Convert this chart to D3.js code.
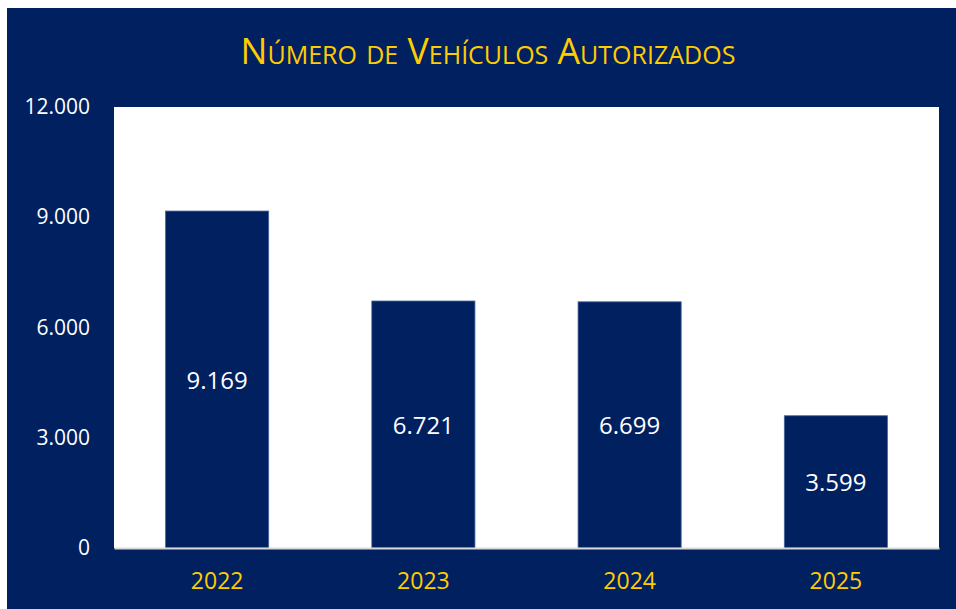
<!DOCTYPE html>
<html>
<head>
<meta charset="utf-8">
<script src="https://cdn.jsdelivr.net/npm/d3@7"></script>
<style>
  body { margin: 0; background: #fff; }
  text { font-family: "Open Sans", "Noto Sans", sans-serif; }
</style>
</head>
<body>
<svg width="956" height="609"></svg>
<script>
var years = ["2022", "2023", "2024", "2025"];
var vehicles = [9169, 6721, 6699, 3599];
var yTicks = [0, 3000, 6000, 9000, 12000];

var navy = "#002060";
var gold = "#ffcc00";

var svg = d3.select("svg");

// dark background panel
svg.append("rect")
  .attr("x", 7).attr("y", 8)
  .attr("width", 949).attr("height", 601)
  .attr("fill", navy);

svg.append("text")
  .attr("x", 488)
  .attr("y", 64)
  .attr("text-anchor", "middle")
  .attr("fill", gold)
  .style("font-size", "35.7px")
  .style("font-variant", "small-caps")
  .text("Número de Vehículos Autorizados");

var plotLeft = 114, plotRight = 939, plotTop = 107, plotBottom = 548;

// white plot area
svg.append("rect")
  .attr("x", plotLeft).attr("y", plotTop)
  .attr("width", plotRight - plotLeft).attr("height", plotBottom - plotTop)
  .attr("fill", "#fff");

var xScale = d3.scaleBand().domain(years).range([plotLeft, plotRight])
  .paddingInner(0.5).paddingOuter(0.25);
var yScale = d3.scaleLinear().domain([0, 12000]).range([plotBottom, plotTop]);

var fmt = function(v) { return d3.format(",")(v).replace(/,/g, "."); };

svg.selectAll(".bar")
  .data(years)
  .enter()
  .append("rect")
  .attr("class", "bar")
  .attr("x", function(d) { return xScale(d); })
  .attr("y", function(d, i) { return yScale(vehicles[i]); })
  .attr("width", xScale.bandwidth())
  .attr("height", function(d, i) { return plotBottom - yScale(vehicles[i]); })
  .attr("fill", navy)
  .attr("stroke", "#4a65a0")
  .attr("stroke-width", 0.8);

svg.selectAll(".lbl")
  .data(years)
  .enter()
  .append("text")
  .attr("class", "lbl")
  .attr("x", function(d) { return xScale(d) + xScale.bandwidth() / 2; })
  .attr("y", function(d, i) { return (yScale(vehicles[i]) + plotBottom) / 2; })
  .attr("dy", "0.38em")
  .attr("text-anchor", "middle")
  .attr("fill", "#fff")
  .style("font-size", "24px")
  .text(function(d, i) { return fmt(vehicles[i]); });

var yAxis = svg.append("g")
  .attr("transform", "translate(" + plotLeft + ",0)")
  .call(d3.axisLeft(yScale).tickValues(yTicks).tickSize(0).tickPadding(24).tickFormat(fmt));
yAxis.select(".domain").remove();
yAxis.selectAll("text")
  .attr("fill", "#fff")
  .style("font-size", "21px")
  .style("font-family", "'Open Sans', sans-serif");

var xAxis = svg.append("g")
  .attr("transform", "translate(0," + plotBottom + ")")
  .call(d3.axisBottom(xScale).tickSize(0).tickSizeOuter(0).tickPadding(25));
xAxis.select(".domain")
  .attr("stroke", "#d9d9d9")
  .attr("stroke-width", 2);
xAxis.selectAll("text")
  .attr("fill", gold)
  .style("font-size", "23px")
  .style("font-family", "'Open Sans', sans-serif");
</script>
</body>
</html>
